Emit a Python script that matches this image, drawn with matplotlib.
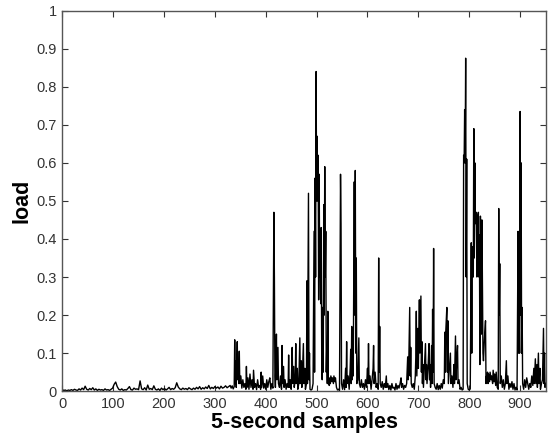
import numpy as np
import matplotlib
matplotlib.use('Agg')
import matplotlib.pyplot as plt

# Quiet period: one reading every 3 samples (0 .. 330)
quiet_sample = list(range(0, 333, 3))
quiet_load = [
    0.004, 0.002, 0.003, 0.001, 0.003, 0.002, 0.004, 0.002, 0.005, 0.003,
    0.002, 0.006, 0.003, 0.008, 0.004, 0.013, 0.005, 0.003, 0.007, 0.004,
    0.009, 0.003, 0.006, 0.002, 0.005, 0.003, 0.004, 0.002, 0.006, 0.003,
    0.004, 0.002, 0.005, 0.008, 0.018, 0.024, 0.012, 0.005, 0.003, 0.006,
    0.002, 0.004, 0.003, 0.007, 0.012, 0.004, 0.003, 0.008, 0.005, 0.006,
    0.004, 0.027, 0.006, 0.004, 0.009, 0.003, 0.016, 0.005, 0.007, 0.004,
    0.014, 0.005, 0.003, 0.006, 0.002, 0.008, 0.004, 0.007, 0.003, 0.006,
    0.010, 0.004, 0.007, 0.005, 0.009, 0.022, 0.011, 0.006, 0.004, 0.008,
    0.005, 0.007, 0.004, 0.009, 0.006, 0.004, 0.008, 0.005, 0.010, 0.006,
    0.012, 0.005, 0.009, 0.006, 0.011, 0.007, 0.015, 0.006, 0.010, 0.007,
    0.012, 0.008, 0.011, 0.006, 0.013, 0.008, 0.010, 0.014, 0.009, 0.012,
    0.015,
]

# Active period (332 .. 950)
active_sample = [
    332, 334, 336, 338, 339, 340, 341, 342, 344, 345,
    346, 347, 348, 349, 351, 353, 355, 357, 359, 361,
    362, 363, 365, 367, 369, 371, 373, 375, 376, 378,
    380, 382, 384, 386, 388, 390, 391, 392, 394, 396,
    398, 400, 402, 404, 406, 408, 410, 412, 414, 416,
    417, 418, 419, 421, 422, 424, 425, 427, 429, 431,
    432, 433, 435, 436, 438, 440, 442, 444, 445, 446,
    448, 450, 452, 453, 455, 456, 458, 459, 460, 462,
    463, 465, 467, 468, 470, 471, 472, 474, 475, 477,
    478, 480, 481, 482, 484, 485, 486, 487, 489, 491,
    493, 495, 496, 497, 498, 499, 500, 501, 502, 503,
    504, 505, 506, 507, 508, 509, 510, 511, 512, 513,
    514, 515, 516, 517, 518, 519, 520, 521, 522, 523,
    525, 526, 527, 528, 530, 531, 533, 534, 536, 537,
    539, 541, 543, 545, 547, 548, 549, 551, 553, 555,
    557, 558, 559, 560, 562, 564, 566, 567, 568, 569,
    570, 571, 572, 574, 575, 576, 577, 578, 579, 581,
    583, 584, 586, 588, 590, 592, 594, 596, 598, 600,
    601, 602, 603, 605, 607, 609, 611, 612, 613, 615,
    617, 619, 621, 622, 623, 624, 625, 627, 629, 631,
    633, 635, 637, 638, 640, 642, 644, 646, 648, 650,
    652, 654, 656, 658, 660, 662, 664, 666, 667, 669,
    671, 673, 675, 677, 679, 680, 681, 683, 684, 685,
    686, 688, 690, 692, 694, 695, 696, 697, 699, 700,
    701, 702, 703, 705, 706, 707, 708, 709, 710, 712,
    714, 715, 716, 717, 719, 721, 722, 723, 724, 726,
    727, 728, 729, 730, 731, 733, 735, 737, 739, 741,
    743, 745, 747, 749, 751, 752, 753, 754, 756, 757,
    758, 759, 761, 763, 764, 766, 768, 770, 771, 773,
    774, 775, 777, 778, 780, 782, 784, 786, 788, 789,
    790, 791, 792, 793, 794, 795, 796, 798, 800, 802,
    804, 805, 806, 808, 809, 810, 811, 812, 813, 814,
    815, 816, 817, 818, 819, 820, 821, 822, 823, 824,
    825, 826, 827, 828, 830, 832, 833, 834, 835, 836,
    837, 838, 840, 841, 843, 844, 846, 847, 849, 850,
    852, 853, 855, 857, 858, 859, 860, 861, 863, 865,
    867, 869, 871, 873, 874, 876, 878, 880, 882, 884,
    886, 888, 890, 892, 894, 896, 897, 898, 899, 900,
    901, 902, 903, 904, 905, 907, 909, 911, 913, 915,
    917, 919, 921, 923, 925, 927, 928, 930, 931, 933,
    934, 936, 937, 939, 940, 942, 944, 946, 947, 948,
    949, 950,
]
active_load = [
    0.008, 0.014, 0.006, 0.012, 0.135, 0.02, 0.08, 0.01, 0.13, 0.03,
    0.08, 0.02, 0.105, 0.02, 0.04, 0.008, 0.03, 0.01, 0.02, 0.005,
    0.065, 0.01, 0.035, 0.005, 0.045, 0.01, 0.03, 0.005, 0.055, 0.01,
    0.02, 0.004, 0.03, 0.01, 0.015, 0.005, 0.05, 0.01, 0.04, 0.008,
    0.02, 0.005, 0.03, 0.01, 0.025, 0.035, 0.005, 0.02, 0.008, 0.47,
    0.30, 0.04, 0.01, 0.15, 0.03, 0.115, 0.02, 0.01, 0.04, 0.005,
    0.12, 0.02, 0.065, 0.01, 0.03, 0.005, 0.02, 0.01, 0.095, 0.01,
    0.03, 0.005, 0.115, 0.02, 0.065, 0.01, 0.03, 0.125, 0.02, 0.06,
    0.005, 0.02, 0.14, 0.02, 0.08, 0.01, 0.04, 0.125, 0.02, 0.06,
    0.005, 0.02, 0.29, 0.02, 0.52, 0.03, 0.10, 0.005, 0.003, 0.005,
    0.02, 0.42, 0.05, 0.56, 0.30, 0.84, 0.50, 0.67, 0.50, 0.62,
    0.24, 0.57, 0.30, 0.38, 0.23, 0.43, 0.10, 0.03, 0.22, 0.05,
    0.49, 0.20, 0.59, 0.30, 0.42, 0.05, 0.12, 0.02, 0.21, 0.02,
    0.015, 0.035, 0.02, 0.04, 0.025, 0.035, 0.02, 0.04, 0.025, 0.035,
    0.01, 0.003, 0.005, 0.002, 0.57, 0.44, 0.02, 0.005, 0.03, 0.004,
    0.06, 0.01, 0.13, 0.02, 0.04, 0.005, 0.06, 0.11, 0.02, 0.17,
    0.03, 0.11, 0.04, 0.55, 0.20, 0.58, 0.10, 0.35, 0.02, 0.03,
    0.14, 0.02, 0.01, 0.03, 0.01, 0.02, 0.005, 0.03, 0.01, 0.06,
    0.02, 0.125, 0.02, 0.04, 0.005, 0.03, 0.06, 0.12, 0.02, 0.05,
    0.01, 0.02, 0.005, 0.35, 0.05, 0.17, 0.02, 0.01, 0.025, 0.005,
    0.02, 0.01, 0.04, 0.01, 0.02, 0.004, 0.015, 0.003, 0.02, 0.008,
    0.01, 0.003, 0.02, 0.005, 0.015, 0.008, 0.02, 0.035, 0.01, 0.02,
    0.005, 0.015, 0.01, 0.02, 0.09, 0.03, 0.06, 0.22, 0.04, 0.115,
    0.02, 0.01, 0.02, 0.005, 0.04, 0.09, 0.21, 0.04, 0.165, 0.06,
    0.16, 0.24, 0.10, 0.25, 0.05, 0.13, 0.02, 0.07, 0.01, 0.07,
    0.125, 0.03, 0.07, 0.02, 0.06, 0.125, 0.03, 0.07, 0.01, 0.12,
    0.02, 0.215, 0.05, 0.375, 0.02, 0.01, 0.005, 0.02, 0.004, 0.015,
    0.005, 0.02, 0.008, 0.03, 0.02, 0.155, 0.05, 0.16, 0.22, 0.05,
    0.185, 0.02, 0.06, 0.10, 0.02, 0.04, 0.01, 0.07, 0.02, 0.145,
    0.03, 0.07, 0.12, 0.02, 0.03, 0.005, 0.01, 0.003, 0.005, 0.62,
    0.60, 0.74, 0.60, 0.875, 0.30, 0.61, 0.02, 0.005, 0.003, 0.006,
    0.39, 0.10, 0.38, 0.30, 0.69, 0.35, 0.60, 0.45, 0.44, 0.47,
    0.30, 0.33, 0.46, 0.47, 0.30, 0.41, 0.07, 0.46, 0.35, 0.15,
    0.45, 0.29, 0.10, 0.08, 0.14, 0.185, 0.02, 0.04, 0.025, 0.05,
    0.02, 0.045, 0.025, 0.05, 0.03, 0.04, 0.02, 0.055, 0.025, 0.045,
    0.015, 0.05, 0.01, 0.005, 0.48, 0.20, 0.335, 0.02, 0.04, 0.01,
    0.03, 0.005, 0.02, 0.08, 0.02, 0.04, 0.005, 0.02, 0.01, 0.025,
    0.005, 0.02, 0.003, 0.01, 0.003, 0.42, 0.10, 0.21, 0.10, 0.735,
    0.20, 0.60, 0.10, 0.22, 0.02, 0.005, 0.03, 0.01, 0.035, 0.02,
    0.005, 0.02, 0.01, 0.04, 0.015, 0.06, 0.02, 0.085, 0.02, 0.07,
    0.01, 0.10, 0.02, 0.06, 0.005, 0.02, 0.03, 0.165, 0.02, 0.10,
    0.01, 0.02,
]

x_ticks = [0, 100, 200, 300, 400, 500, 600, 700, 800, 900]
y_ticks = [0, 0.1, 0.2, 0.3, 0.4, 0.5, 0.6, 0.7, 0.8, 0.9, 1]
y_tick_labels = ['0', '0.1', '0.2', '0.3', '0.4', '0.5', '0.6', '0.7', '0.8', '0.9', '1']

assert len(quiet_sample) == len(quiet_load)
assert len(active_sample) == len(active_load)

sample = np.array(quiet_sample + active_sample)
load = np.array(quiet_load + active_load)

plt.rcParams['font.family'] = ['Liberation Sans', 'DejaVu Sans']

fig = plt.figure(figsize=(5.51, 4.43), dpi=100)
ax = fig.add_axes([0.113, 0.117, 0.878, 0.859])

ax.plot(sample, load, color='k', linewidth=1.0)

ax.set_xlim(0, 951)
ax.set_ylim(0, 1)
ax.set_xticks(x_ticks)
ax.set_yticks(y_ticks)
ax.set_yticklabels(y_tick_labels)
ax.tick_params(direction='in', top=True, right=True, length=4,
               labelsize=10.5, colors='#333333', pad=4)

for spine in ax.spines.values():
    spine.set_color('#555555')
    spine.set_linewidth(1.0)

ax.set_xlabel('5-second samples', fontsize=15.5, fontweight='bold', labelpad=1)
ax.set_ylabel('load', fontsize=15.5, fontweight='bold', labelpad=3)

fig.savefig('out.png', dpi=100)
